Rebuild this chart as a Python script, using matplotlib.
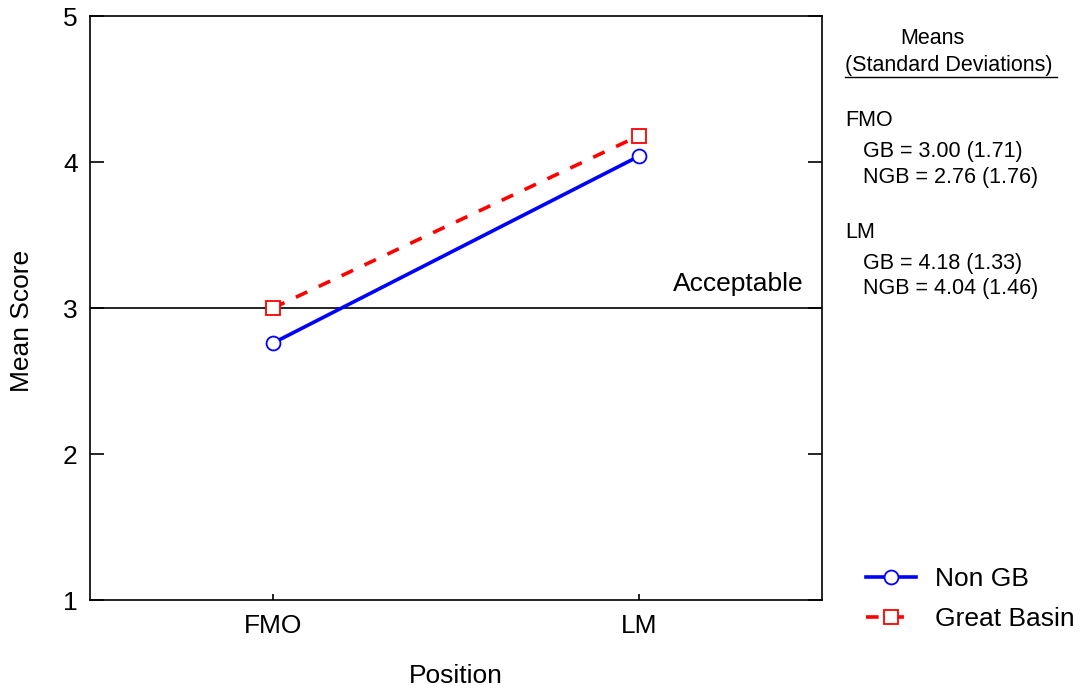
import matplotlib
matplotlib.use("Agg")
import matplotlib.pyplot as plt
from matplotlib.lines import Line2D

plt.rcParams['font.family'] = ['Liberation Sans', 'DejaVu Sans']

positions = ['FMO', 'LM']
non_gb = [2.76, 4.04]
great_basin = [3.00, 4.18]
gb_sd = [1.71, 1.33]
ngb_sd = [1.76, 1.46]
yticks = [1, 2, 3, 4, 5]
acceptable = 3

W, H = 1087, 691
fig = plt.figure(figsize=(W / 100, H / 100), dpi=100)
ax = fig.add_axes([90 / W, 1 - 600 / H, (822 - 90) / W, (600 - 16) / H])

xs = list(range(len(positions)))
ax.axhline(acceptable, color='black', lw=1.2, zorder=1)
ax.plot(xs, non_gb, color='#0000ff', lw=2.6, marker='o', ms=10,
        mfc='white', mec='#0000ff', mew=1.3, label='Non GB', zorder=3)
ax.plot(xs, great_basin, color='#ff0000', lw=2.6, ls=(0, (3.5, 3.5)), marker='s', ms=10,
        mfc='white', mec='#ff0000', mew=1.3, label='Great Basin', zorder=3)

ax.set_xlim(-0.5, 1.5)
ax.set_ylim(1, 5)
ax.set_xticks(xs)
ax.set_xticklabels(positions)
ax.set_yticks(yticks)
ax.tick_params(axis='y', direction='in', length=10, width=1.2, labelsize=19, pad=9,
               right=True)
ax.tick_params(axis='x', direction='in', length=4, width=1.2, labelsize=19, pad=10)
for s in ax.spines.values():
    s.set_linewidth(1.2)

ax.set_xlabel('Position', fontsize=19, labelpad=19)
ax.set_ylabel('Mean Score', fontsize=19)
ax.yaxis.set_label_coords((34 - 90) / (822 - 90), (600 - 321) / (600 - 16))

ax.text(1.45, acceptable + 0.08, 'Acceptable', fontsize=19, ha='right', va='bottom')

def ft(x, y, s, **kw):
    fig.text(x / W, 1 - y / H, s, va='center', fontsize=15.5, **kw)

ft(932, 39, 'Means', ha='center')
ft(845, 66, '(Standard Deviations)', ha='left')
fig.add_artist(Line2D([845 / W, 1057 / W], [1 - 77 / H, 1 - 77 / H], color='black', lw=1.0))

rows = [(121, positions[0], 0), (233, positions[1], 1)]
for y0, name, i in rows:
    ft(845, y0, name, ha='left')
    ft(863, y0 + 30, f'GB = {great_basin[i]:.2f} ({gb_sd[i]:.2f})', ha='left')
    ft(863, y0 + 56, f'NGB = {non_gb[i]:.2f} ({ngb_sd[i]:.2f})', ha='left')

ax.legend(loc='center left', bbox_to_anchor=(855 / W, 1 - 599 / H),
          bbox_transform=fig.transFigure, frameon=False, fontsize=19,
          handlelength=1.9, handletextpad=0.75, labelspacing=0.62, borderaxespad=0)

fig.savefig('out.png', dpi=100)
